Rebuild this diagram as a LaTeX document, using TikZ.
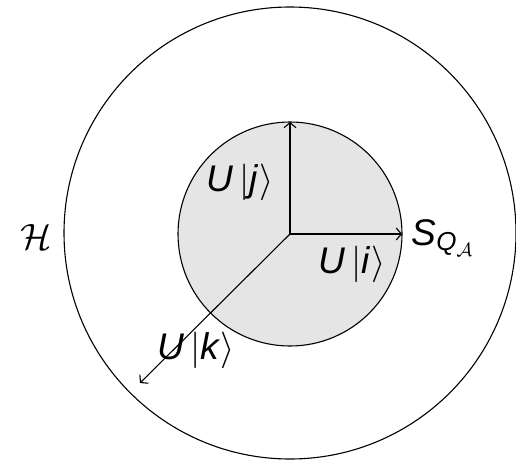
\documentclass[tikz,border=0pt]{standalone}
\usepackage{amsmath}
\usepackage{fontspec}
\setmainfont{Liberation Sans}
\usetikzlibrary{arrows.meta}
\newcommand\myket[1]{\textit{U}$\,|$\textit{#1}$\rangle$}
\begin{document}
\begin{tikzpicture}[x=1pt,y=-1pt,
  circ/.style={draw=black,line width=1.1pt},
  vec/.style={-{Straight Barb[length=5pt,width=12pt]},line width=1.1pt},
  lab/.style={font=\fontsize{17.5}{21}\selectfont,inner sep=0pt,scale=2.12}]
\useasboundingbox (0,0) rectangle (516,460);
\draw[circ] (290,233) circle[radius=226];
\draw[circ,fill=gray!20] (290,234) circle[radius=112];
\coordinate (o) at (290,234);
\coordinate (t) at (290,122);
\coordinate (r) at (402,234);
\coordinate (k) at (140,383);
\draw[vec] (o) -- (t);
\draw[vec] (o) -- (r);
\draw[vec] (o) -- (k);
\node[lab] (h) at (36,237) {$\mathcal{H}$};
\node[lab] (uj) at (240,182) {\myket{j}};
\node[lab] (ui) at (352,264) {\myket{i}};
\node[lab] (s) at (443,238) {\textit{S}$_{\text{\itshape Q}_{\mathcal{A}}}$};
\node[lab] (uk) at (196,350) {\myket{k}};
\end{tikzpicture}
\end{document}
